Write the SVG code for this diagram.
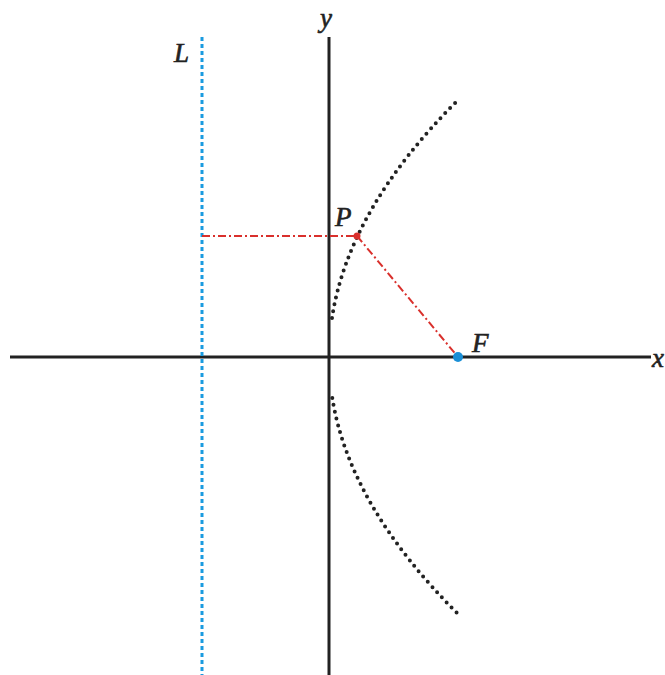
<svg xmlns="http://www.w3.org/2000/svg" width="665" height="675" viewBox="0 0 665 675">
<style>
.axis{stroke:#222;stroke-width:3;fill:none}
.lbl{font-family:"Liberation Serif",serif;font-style:italic;font-size:27px;fill:#222;stroke:#222;stroke-width:0.6}
.curve{stroke:#222;stroke-width:4;fill:none;stroke-dasharray:0 7;stroke-linecap:round}
.red{stroke:#d9302c;stroke-width:2;fill:none;stroke-dasharray:8 3 2 3}
</style>
<rect width="665" height="675" fill="#fff"/>
<g id="axes">
<line class="axis" x1="10" y1="357" x2="651" y2="357"/>
<line class="axis" x1="329" y1="37" x2="329" y2="675"/>
<text class="lbl" x="652" y="367">x</text>
<text class="lbl" x="320" y="27">y</text>
</g>
<g id="directrix">
<line x1="202" y1="37" x2="202" y2="675" stroke="#1a9be0" stroke-width="3" stroke-dasharray="4 3"/>
<text class="lbl" x="174" y="62">L</text>
</g>
<g id="parabola">
<path class="curve" d="M332,318 Q348.6,209 458,100"/>
<path class="curve" d="M332.3,398 Q349.6,506 458,614"/>
</g>
<g id="connectors">
<line class="red" x1="202" y1="236" x2="357" y2="236"/>
<line class="red" x1="357" y1="236" x2="458" y2="357"/>
</g>
<g id="P">
<circle cx="357" cy="236" r="3.5" fill="#d9302c"/>
<text class="lbl" x="335" y="226">P</text>
</g>
<g id="F">
<circle cx="458" cy="357" r="5" fill="#1a8fd6"/>
<text class="lbl" x="472" y="352">F</text>
</g>
</svg>
